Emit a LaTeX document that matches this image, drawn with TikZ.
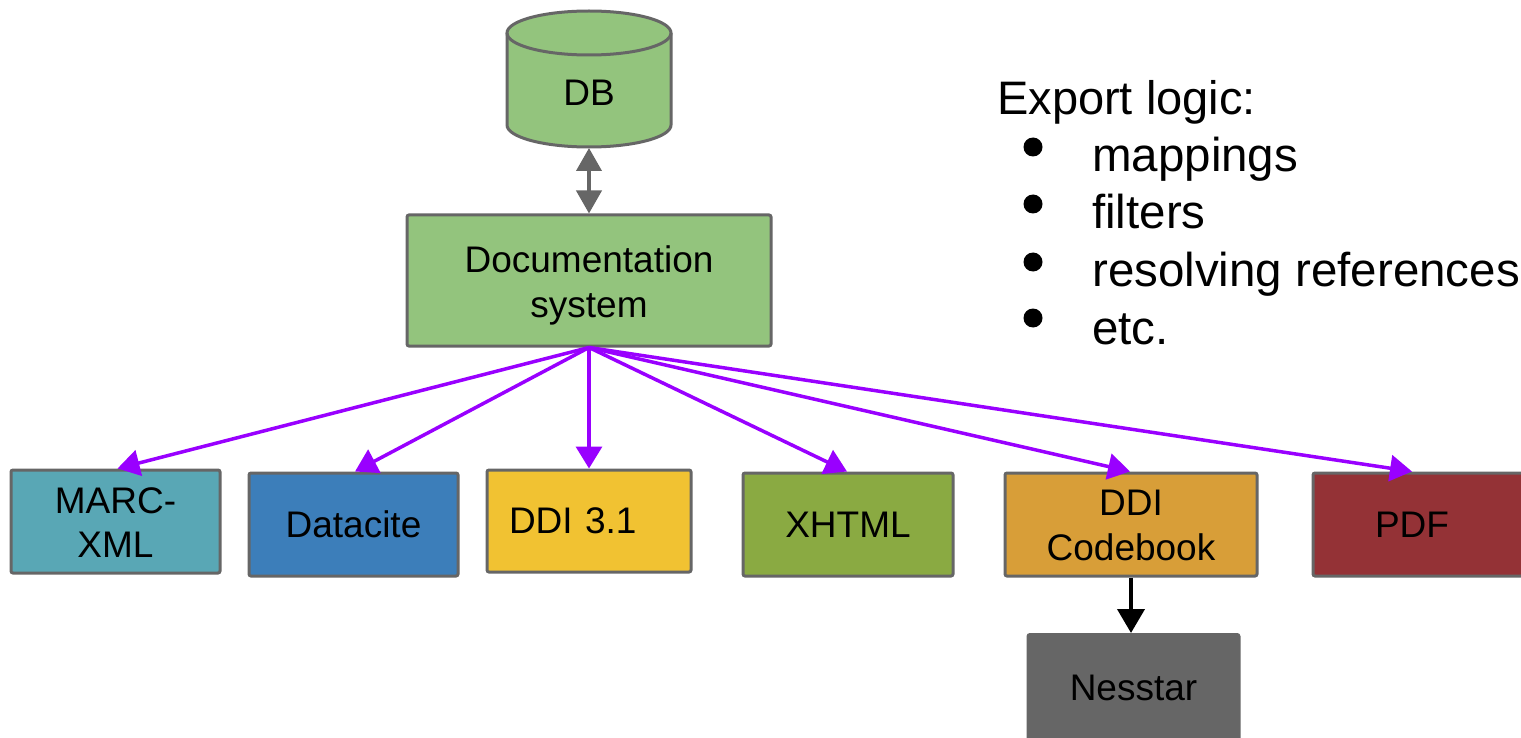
\documentclass[tikz,border=0pt]{standalone}
\usepackage{fontspec}
\setmainfont{Liberation Sans}
\usetikzlibrary{arrows.meta}
\definecolor{bgray}{HTML}{666666}
\definecolor{lgreen}{HTML}{93C47D}
\definecolor{cmarc}{HTML}{59A7B5}
\definecolor{cdatacite}{HTML}{3C7EBA}
\definecolor{cddi}{HTML}{F1C232}
\definecolor{cxhtml}{HTML}{8AAA42}
\definecolor{ccodebook}{HTML}{D89E38}
\definecolor{cpdf}{HTML}{943236}
\definecolor{cpurple}{HTML}{9900FF}
\newcommand{\twolines}[3]{\raisebox{-#1}[0pt][0pt]{\begin{tabular}[b]{@{}c@{}}#2\\#3\end{tabular}}}
\tikzset{
  box/.style={draw=bgray, line width=3pt, rounded corners=2pt, inner sep=0pt,
    align=center, font=\fontsize{37}{44.5}\selectfont, text=black},
  export/.style={draw=cpurple, line width=3.5pt,
    -{Triangle[length=22pt,width=26pt]}},
  listtext/.style={anchor=base west, inner sep=0pt, font=\fontsize{47.5}{56}\selectfont}
}
\begin{document}
\begin{tikzpicture}[x=1pt,y=-1pt]
\useasboundingbox (0,0) rectangle (1521,738);
% DB cylinder
\node (db) [minimum width=164pt, minimum height=136pt, inner sep=0pt] at (589,80) {};
\path[fill=lgreen] (507,33) -- (507,125) arc (180:0:82 and 22) -- (671,33)
  arc (0:-180:82 and 22) -- cycle;
\draw[bgray, line width=3pt] (507,33) -- (507,125) arc (180:0:82 and 22) -- (671,33);
\draw[bgray, line width=3pt] (589,33) ellipse [x radius=82, y radius=22];
\node[font=\fontsize{37}{44}\selectfont, inner sep=0pt] (dblabel) at (589,93) {DB};
\coordinate (dbbottom) at (589,148);

\node[box, fill=lgreen, minimum width=364pt, minimum height=131pt] (doc) at (589,280.5) {\twolines{36.5pt}{Documentation}{system}};

\node[box, fill=cmarc, minimum width=209pt, minimum height=103pt] (marc) at (115.5,521.5) {\twolines{36pt}{MARC-}{XML}};
\node[box, fill=cdatacite, minimum width=209pt, minimum height=103pt] (datacite) at (353.5,524.5) {Datacite};
\node[box, fill=cddi, text width=160pt, inner xsep=22pt, align=left, minimum height=102pt] (ddi) at (589,521) {DDI 3.1};
\node[box, fill=cxhtml, minimum width=210pt, minimum height=103pt] (xhtml) at (848,524.5) {XHTML};
\node[box, fill=ccodebook, minimum width=252pt, minimum height=103pt] (codebook) at (1131,524.5) {\twolines{35.5pt}{DDI}{Codebook}};
\node[box, fill=cpdf, minimum width=210pt, minimum height=103pt] (pdf) at (1418,524.5) {\hspace*{-12pt}PDF};
\node[box, fill=bgray, minimum width=211pt, minimum height=107pt] (nesstar) at (1133.5,688) {Nesstar};

% connectors
\draw[bgray, line width=4pt, {Triangle[length=23pt,width=25pt]}-{Triangle[length=23pt,width=25pt]}] (dbbottom) -- (doc.north);
\draw[export] (doc.south) -- ([xshift=2pt]marc.north);
\draw[export] (doc.south) -- ([xshift=1.5pt]datacite.north);
\draw[export] (doc.south) -- (ddi.north);
\draw[export] (doc.south) -- ([xshift=-1pt]xhtml.north);
\draw[export] (doc.south) -- ([xshift=-1pt]codebook.north);
\draw[export] (doc.south) -- ([xshift=-6pt]pdf.north);
\draw[black, line width=4pt, -{Triangle[length=24pt,width=27pt]}] (codebook.south) -- (codebook.south |- nesstar.north);

% export logic text
\node[listtext, font=\fontsize{47}{56}\selectfont] (title) at (997,115) {Export logic:};
\node[listtext] (i1) at (1092,172) {mappings};
\node[listtext] (i2) at (1092,229) {filters};
\node[listtext] (i3) at (1092,287) {resolving references};
\node[listtext] (i4) at (1092,344) {etc.};
\foreach \yy in {147,204,262,318} \fill (1033,\yy) circle [radius=9.5];
\end{tikzpicture}
\end{document}
